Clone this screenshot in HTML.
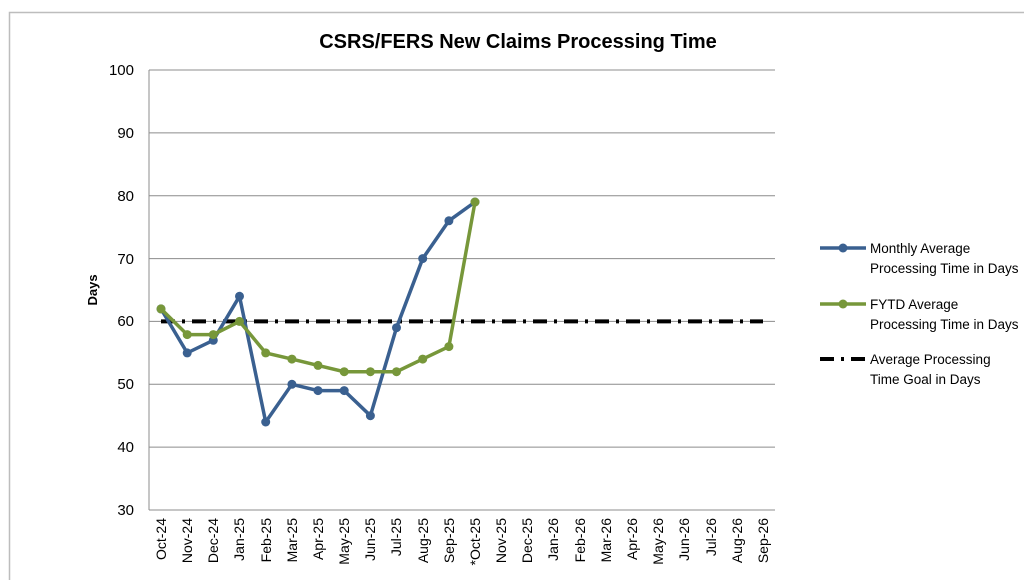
<!DOCTYPE html>
<html><head><meta charset="utf-8"><style>body{margin:0;background:#fff}svg{display:block;font-family:"Liberation Sans",sans-serif}</style></head><body>
<svg width="1024" height="580" viewBox="0 0 1024 580">
<rect x="9.5" y="12.5" width="1030" height="580" fill="#fff" stroke="#bdbdbd" stroke-width="1.5"/>
<text x="518" y="48" text-anchor="middle" font-size="20" font-weight="bold" fill="#000">CSRS/FERS New Claims Processing Time</text>
<g stroke="#8c8c8c" stroke-width="1">
<line x1="149" y1="70" x2="775" y2="70"/><line x1="149" y1="132.9" x2="775" y2="132.9"/><line x1="149" y1="195.7" x2="775" y2="195.7"/><line x1="149" y1="258.6" x2="775" y2="258.6"/><line x1="149" y1="321.4" x2="775" y2="321.4"/><line x1="149" y1="384.3" x2="775" y2="384.3"/><line x1="149" y1="447.1" x2="775" y2="447.1"/><line x1="149" y1="510" x2="775" y2="510"/>
<line x1="149" y1="70" x2="149" y2="510"/>
</g>
<g font-size="15" text-anchor="end" fill="#000">
<text x="134" y="75">100</text><text x="134" y="138">90</text><text x="134" y="201">80</text><text x="134" y="264">70</text><text x="134" y="326">60</text><text x="134" y="389">50</text><text x="134" y="452">40</text><text x="134" y="515">30</text>
</g>
<text transform="translate(97,290) rotate(-90)" text-anchor="middle" font-size="13" font-weight="bold">Days</text>
<g font-size="14" text-anchor="end" fill="#000">
<text transform="translate(166,518) rotate(-90)">Oct-24</text>
<text transform="translate(192,518) rotate(-90)">Nov-24</text>
<text transform="translate(218,518) rotate(-90)">Dec-24</text>
<text transform="translate(244,518) rotate(-90)">Jan-25</text>
<text transform="translate(271,518) rotate(-90)">Feb-25</text>
<text transform="translate(297,518) rotate(-90)">Mar-25</text>
<text transform="translate(323,518) rotate(-90)">Apr-25</text>
<text transform="translate(349,518) rotate(-90)">May-25</text>
<text transform="translate(375,518) rotate(-90)">Jun-25</text>
<text transform="translate(401,518) rotate(-90)">Jul-25</text>
<text transform="translate(428,518) rotate(-90)">Aug-25</text>
<text transform="translate(454,518) rotate(-90)">Sep-25</text>
<text transform="translate(480,518) rotate(-90)">*Oct-25</text>
<text transform="translate(506,518) rotate(-90)">Nov-25</text>
<text transform="translate(532,518) rotate(-90)">Dec-25</text>
<text transform="translate(558,518) rotate(-90)">Jan-26</text>
<text transform="translate(585,518) rotate(-90)">Feb-26</text>
<text transform="translate(611,518) rotate(-90)">Mar-26</text>
<text transform="translate(637,518) rotate(-90)">Apr-26</text>
<text transform="translate(663,518) rotate(-90)">May-26</text>
<text transform="translate(689,518) rotate(-90)">Jun-26</text>
<text transform="translate(716,518) rotate(-90)">Jul-26</text>
<text transform="translate(742,518) rotate(-90)">Aug-26</text>
<text transform="translate(768,518) rotate(-90)">Sep-26</text>
</g>
<line x1="161" y1="321.4" x2="763" y2="321.4" stroke="#000" stroke-width="4" stroke-dasharray="14 7 3 7"/>
<polyline fill="none" stroke="#3a6090" stroke-width="3.5" points="161,308.9 187.2,352.9 213.3,340.3 239.5,296.3 265.7,422 291.9,384.3 318,390.6 344.2,390.6 370.4,415.7 396.5,327.7 422.7,258.6 448.9,220.8 475,202"/>
<g fill="#3a6090"><circle cx="161" cy="308.9" r="4.5"/><circle cx="187.2" cy="352.9" r="4.5"/><circle cx="213.3" cy="340.3" r="4.5"/><circle cx="239.5" cy="296.3" r="4.5"/><circle cx="265.7" cy="422" r="4.5"/><circle cx="291.9" cy="384.3" r="4.5"/><circle cx="318" cy="390.6" r="4.5"/><circle cx="344.2" cy="390.6" r="4.5"/><circle cx="370.4" cy="415.7" r="4.5"/><circle cx="396.5" cy="327.7" r="4.5"/><circle cx="422.7" cy="258.6" r="4.5"/><circle cx="448.9" cy="220.8" r="4.5"/><circle cx="475" cy="202" r="4.5"/></g>
<polyline fill="none" stroke="#77973a" stroke-width="3.5" points="161,308.9 187.2,334.6 213.3,334.6 239.5,321.4 265.7,352.9 291.9,359.1 318,365.4 344.2,371.7 370.4,371.7 396.5,371.7 422.7,359.1 448.9,346.6 475,202"/>
<g fill="#77973a"><circle cx="161" cy="308.9" r="4.5"/><circle cx="187.2" cy="334.6" r="4.5"/><circle cx="213.3" cy="334.6" r="4.5"/><circle cx="239.5" cy="321.4" r="4.5"/><circle cx="265.7" cy="352.9" r="4.5"/><circle cx="291.9" cy="359.1" r="4.5"/><circle cx="318" cy="365.4" r="4.5"/><circle cx="344.2" cy="371.7" r="4.5"/><circle cx="370.4" cy="371.7" r="4.5"/><circle cx="396.5" cy="371.7" r="4.5"/><circle cx="422.7" cy="359.1" r="4.5"/><circle cx="448.9" cy="346.6" r="4.5"/><circle cx="475" cy="202" r="4.5"/></g>
<g font-size="13.5" fill="#000">
<line x1="820" y1="248" x2="866" y2="248" stroke="#3a6090" stroke-width="3.5"/><circle cx="843" cy="248" r="4.5" fill="#3a6090"/>
<text x="870" y="253">Monthly Average</text><text x="870" y="273">Processing Time in Days</text>
<line x1="820" y1="304" x2="866" y2="304" stroke="#77973a" stroke-width="3.5"/><circle cx="843" cy="304" r="4.5" fill="#77973a"/>
<text x="870" y="309">FYTD Average</text><text x="870" y="329">Processing Time in Days</text>
<line x1="820" y1="359" x2="866" y2="359" stroke="#000" stroke-width="4" stroke-dasharray="14 7 3 7"/>
<text x="870" y="364">Average Processing</text><text x="870" y="384">Time Goal in Days</text>
</g>
</svg>
</body></html>
